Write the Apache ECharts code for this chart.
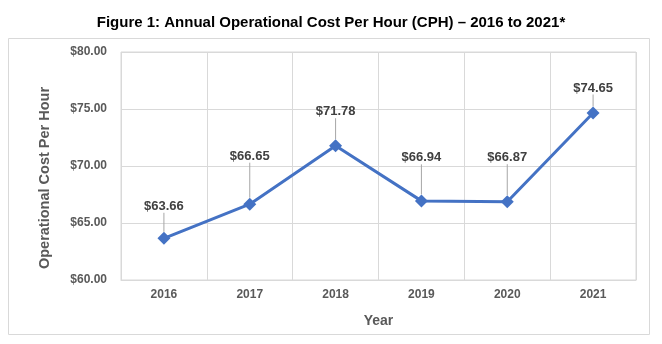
<!DOCTYPE html>
<html>
<head>
<meta charset="utf-8">
<script src="https://cdn.jsdelivr.net/npm/echarts@6/dist/echarts.min.js"></script>
<style>
html,body{margin:0;padding:0;background:#fff;}
#chart{width:662px;height:344px;}
</style>
</head>
<body>
<div id="chart"></div>
<script>
var categories = ['2016', '2017', '2018', '2019', '2020', '2021'];
var costPerHour = [63.66, 66.65, 71.78, 66.94, 66.87, 74.65];
var labelOffsets = [-32, -48, -34, -43, -44, -25];
var yTicks = { min: 60, max: 80, interval: 5 };

var chart = echarts.init(document.getElementById('chart'));
var font = 'Liberation Sans, Arial, sans-serif';
chart.setOption({
  animation: false,
  title: {
    text: 'Figure 1: Annual Operational Cost Per Hour (CPH) \u2013 2016 to 2021*',
    left: 'center',
    top: 10,
    textStyle: { fontFamily: font, fontSize: 15, fontWeight: 'bold', color: '#000' }
  },
  graphic: [{
    type: 'rect',
    shape: { x: 8.5, y: 38.5, width: 641, height: 296 },
    style: { fill: 'none', stroke: '#d9d9d9', lineWidth: 1 },
    silent: true, z: -1
  }],
  grid: { left: 121, right: 26, top: 52, bottom: 64, show: true, borderColor: '#d9d9d9', borderWidth: 1 },
  xAxis: {
    type: 'category',
    data: categories,
    boundaryGap: true,
    name: 'Year',
    nameLocation: 'middle',
    nameGap: 34,
    nameTextStyle: { fontFamily: font, fontSize: 14, fontWeight: 'bold', color: '#595959' },
    axisLine: { lineStyle: { color: '#d9d9d9' } },
    axisTick: { show: false },
    splitLine: { show: true, lineStyle: { color: '#d9d9d9' } },
    axisLabel: { margin: 9, fontFamily: font, fontSize: 12, fontWeight: 'bold', color: '#595959' }
  },
  yAxis: {
    type: 'value',
    min: yTicks.min, max: yTicks.max, interval: yTicks.interval,
    name: 'Operational Cost Per Hour',
    nameLocation: 'middle',
    nameGap: 69,
    nameTextStyle: { fontFamily: font, fontSize: 14.5, fontWeight: 'bold', color: '#595959', padding: [0, 24, 0, 0] },
    axisLine: { show: false },
    axisTick: { show: false },
    splitLine: { lineStyle: { color: '#d9d9d9' } },
    axisLabel: {
      margin: 14, fontFamily: font, fontSize: 12, fontWeight: 'bold', color: '#595959',
      formatter: function (v) { return '$' + v.toFixed(2); }
    }
  },
  series: [{
    type: 'line',
    data: costPerHour,
    symbol: 'diamond',
    symbolSize: 13,
    lineStyle: { color: '#4472C4', width: 3 },
    itemStyle: { color: '#4472C4' },
    label: {
      show: true,
      position: 'inside',
      fontFamily: font, fontSize: 13, fontWeight: 'bold', color: '#404040',
      formatter: function (p) { return '$' + p.value.toFixed(2); }
    },
    labelLine: { show: true, lineStyle: { color: '#a6a6a6', width: 1 } },
    labelLayout: function (params) {
      return { dy: labelOffsets[params.dataIndex] };
    }
  }]
});
</script>
</body>
</html>
